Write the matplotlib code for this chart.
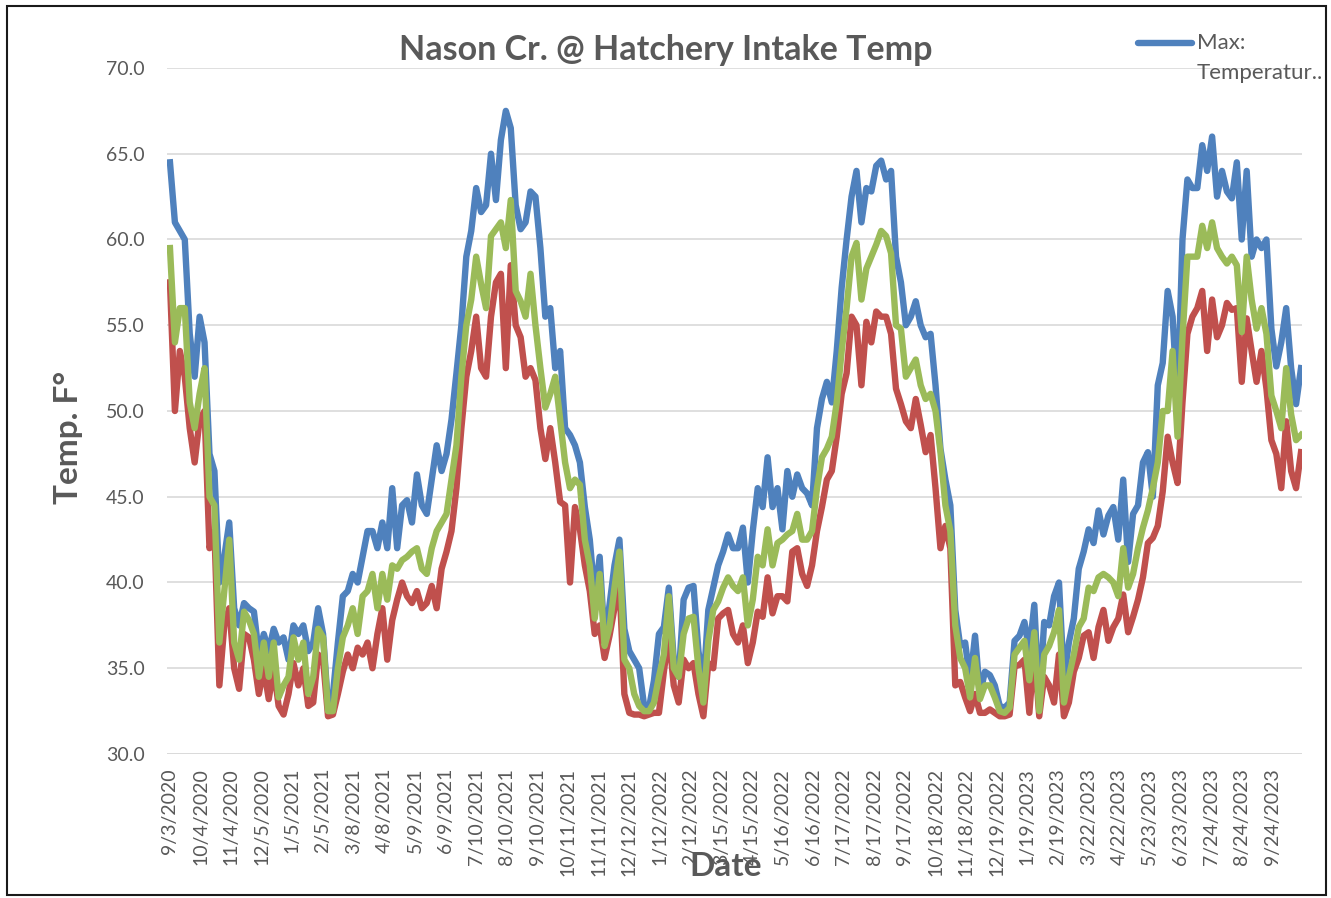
import numpy as np
import pandas as pd
import matplotlib
matplotlib.use("Agg")
import matplotlib.pyplot as plt
from matplotlib.lines import Line2D
from matplotlib.patches import Rectangle

# --- data, one sample every 5 days from 9/3/2020 ---
start_date = "2020-09-03"
step_days = 5

temp_max = [
    64.5, 61.0, 60.5, 60.0, 54.5, 52.0, 55.5, 54.0, 47.5, 46.5,
    40.0, 41.5, 43.5, 38.5, 37.5, 38.8, 38.5, 38.3, 35.8, 37.0,
    36.0, 37.3, 36.5, 36.8, 35.5, 37.5, 37.0, 37.5, 36.0, 36.5,
    38.5, 37.0, 32.8, 33.5, 36.5, 39.2, 39.5, 40.5, 40.0,
    41.5, 43.0, 43.0, 42.0, 43.5, 42.0, 45.5, 42.0, 44.5, 44.8,
    43.5, 46.3, 44.5, 44.0, 46.0, 48.0, 46.5, 47.5, 49.5, 52.2,
    55.0, 59.0, 60.5, 63.0, 61.6, 62.0, 65.0, 62.3, 65.8, 67.5,
    66.5, 62.0, 60.6, 61.0, 62.8, 62.5, 59.5, 55.5,
    56.0, 52.5, 53.5, 49.0, 48.6, 48.0, 47.0, 44.4, 42.5, 39.2,
    41.5, 36.6, 38.7, 41.0, 42.5, 37.3, 36.0, 35.5, 35.0, 32.8,
    32.7, 34.3, 37.0, 37.4, 39.7, 35.5, 34.5, 39.0, 39.7, 39.8,
    36.0, 34.0, 38.4, 39.7, 41.0, 41.8, 42.8, 42.0,
    42.0, 43.2, 40.0, 43.0, 45.5, 44.4, 47.3, 44.4, 45.5, 43.1,
    46.5, 45.0, 46.3, 45.5, 45.2, 44.5, 49.0, 50.7, 51.7, 50.5,
    53.5, 57.2, 60.0, 62.5, 64.0, 61.0, 63.0, 62.8, 64.3, 64.6,
    63.5, 64.0, 59.0, 57.5, 55.0, 55.5, 56.4, 55.0, 54.3,
    54.5, 51.5, 47.8, 46.0, 44.5, 38.4, 36.3, 36.5, 34.2, 36.9,
    33.5, 34.8, 34.6, 34.0, 32.8, 32.7, 33.0, 36.6, 36.9, 37.7,
    36.0, 38.7, 33.0, 37.7, 37.5, 39.2, 40.0, 34.3, 36.5, 37.9,
    40.8, 41.8, 43.1, 42.3, 44.2, 42.8, 43.9, 44.4,
    42.5, 46.0, 41.2, 44.0, 44.5, 47.0, 47.6, 45.0, 51.5, 52.8,
    57.0, 55.5, 50.5, 60.0, 63.5, 63.0, 63.0, 65.5, 64.0, 66.0,
    62.5, 64.0, 62.8, 62.4, 64.5, 60.0, 64.0, 59.0, 60.0, 59.5,
    60.0, 54.8, 52.6, 54.0, 56.0, 52.5, 50.4, 52.5,
]

temp_min = [
    57.5, 50.0, 53.5, 52.0, 49.0, 47.0, 49.5, 50.0, 42.0, 43.0,
    34.0, 37.5, 38.5, 35.0, 33.8, 37.0, 36.8, 35.5, 33.5, 35.0,
    33.2, 35.0, 32.8, 32.3, 33.5, 35.3, 34.0, 35.0, 32.8, 33.0,
    35.8, 35.5, 32.2, 32.3, 33.5, 34.8, 35.8, 35.0, 36.2,
    35.8, 36.5, 35.0, 37.0, 38.5, 35.5, 37.8, 39.0, 40.0, 39.2,
    38.8, 39.5, 38.5, 38.8, 39.8, 38.5, 40.8, 41.8, 43.0, 45.5,
    49.0, 52.0, 53.5, 55.5, 52.5, 52.0, 55.5, 57.5, 58.0, 52.5,
    58.5, 55.0, 54.3, 52.0, 52.5, 51.8, 49.0, 47.2,
    49.0, 47.0, 44.7, 44.5, 40.0, 44.4, 43.1, 41.0, 39.5, 37.0,
    37.5, 35.6, 36.9, 38.5, 40.0, 33.5, 32.4, 32.3, 32.3, 32.2,
    32.3, 32.4, 32.4, 34.8, 37.0, 34.0, 33.0, 35.5, 35.0, 35.3,
    33.5, 32.2, 35.3, 35.0, 37.9, 38.2, 38.4, 37.0,
    36.5, 37.5, 35.3, 36.5, 38.3, 38.0, 40.3, 38.2, 39.2, 39.2,
    38.9, 41.8, 42.0, 40.5, 39.8, 41.0, 43.0, 44.4, 46.0, 46.5,
    48.5, 51.0, 52.2, 55.5, 55.0, 51.5, 55.2, 54.0, 55.8, 55.5,
    55.5, 54.5, 51.3, 50.4, 49.4, 49.0, 50.7, 49.2, 47.6,
    48.6, 45.5, 42.0, 43.3, 42.0, 34.0, 34.2, 33.3, 32.5, 33.5,
    32.4, 32.4, 32.6, 32.4, 32.2, 32.2, 32.3, 35.1, 35.2, 35.5,
    32.4, 36.1, 32.2, 34.5, 34.0, 33.0, 35.8, 32.2, 33.0, 34.8,
    35.6, 36.9, 37.1, 35.6, 37.4, 38.4, 36.6, 37.4,
    37.9, 39.3, 37.1, 38.0, 39.0, 40.3, 42.3, 42.6, 43.3, 45.3,
    48.5, 47.0, 45.8, 50.5, 54.5, 55.5, 56.0, 57.0, 53.5, 56.5,
    54.3, 55.0, 56.3, 55.9, 56.0, 51.7, 55.4, 53.5, 51.7, 53.5,
    51.3, 48.3, 47.5, 45.5, 49.4, 46.5, 45.5, 47.6,
]

temp_mean = [
    59.5, 54.0, 56.0, 56.0, 50.5, 49.0, 51.0, 52.5, 45.0, 44.5,
    36.5, 39.5, 42.5, 36.5, 35.5, 38.3, 37.8, 37.0, 34.5, 36.5,
    34.5, 36.5, 33.3, 34.0, 34.5, 36.8, 35.5, 36.5, 33.5, 34.5,
    37.3, 36.8, 32.5, 32.5, 35.0, 36.8, 37.5, 38.5, 37.0,
    39.2, 39.5, 40.5, 38.5, 40.5, 39.0, 41.0, 40.8, 41.3, 41.5,
    41.8, 42.0, 40.8, 40.5, 42.0, 43.0, 43.5, 44.0, 46.0, 48.0,
    52.0, 55.0, 56.5, 59.0, 57.4, 56.0, 60.2, 60.6, 61.0, 59.5,
    62.3, 57.0, 56.4, 55.5, 58.0, 55.0, 52.5, 50.2,
    51.0, 52.0, 49.5, 47.0, 45.5, 46.0, 45.7, 42.5, 41.0, 37.9,
    40.5, 36.3, 37.4, 39.7, 41.8, 35.5, 35.0, 33.5, 32.8, 32.5,
    32.5, 33.0, 34.5, 35.8, 39.2, 35.0, 34.5, 37.0, 37.9, 38.0,
    35.0, 33.0, 36.6, 38.4, 38.9, 39.7, 40.3, 39.8,
    39.5, 40.3, 37.5, 39.0, 41.5, 41.0, 43.1, 41.0, 42.3, 42.5,
    42.8, 43.0, 44.0, 42.5, 42.5, 43.0, 45.5, 47.3, 47.8, 48.5,
    50.5, 53.5, 56.0, 59.0, 59.8, 56.5, 58.3, 59.0, 59.7, 60.5,
    60.2, 59.2, 55.0, 54.8, 52.0, 52.5, 53.0, 51.5, 50.7,
    51.0, 50.0, 47.6, 44.5, 43.0, 37.5, 35.6, 35.0, 33.3, 35.6,
    33.2, 34.0, 34.0, 33.3, 32.5, 32.4, 32.7, 35.8, 36.2, 36.6,
    34.3, 37.1, 32.5, 35.8, 36.3, 37.1, 38.4, 33.0, 34.5, 35.8,
    37.4, 37.9, 39.7, 39.5, 40.3, 40.5, 40.3, 40.0,
    39.2, 42.0, 39.7, 40.5, 42.0, 43.2, 44.2, 45.5, 47.0, 50.0,
    50.0, 53.5, 48.5, 54.3, 59.0, 59.0, 59.0, 60.8, 59.5, 61.0,
    59.5, 59.0, 58.6, 59.0, 58.5, 54.6, 59.0, 56.5, 54.8, 56.0,
    54.5, 50.9, 50.0, 49.0, 52.5, 49.8, 48.3, 48.6,
]

tick_labels = [
    "9/3/2020", "10/4/2020", "11/4/2020", "12/5/2020", "1/5/2021",
    "2/5/2021", "3/8/2021", "4/8/2021", "5/9/2021", "6/9/2021",
    "7/10/2021", "8/10/2021", "9/10/2021", "10/11/2021", "11/11/2021",
    "12/12/2021", "1/12/2022", "2/12/2022", "3/15/2022", "4/15/2022",
    "5/16/2022", "6/16/2022", "7/17/2022", "8/17/2022", "9/17/2022",
    "10/18/2022", "11/18/2022", "12/19/2022", "1/19/2023", "2/19/2023",
    "3/22/2023", "4/22/2023", "5/23/2023", "6/23/2023", "7/24/2023",
    "8/24/2023", "9/24/2023",
]
y_ticks = [30, 35, 40, 45, 50, 55, 60, 65, 70]

# --- plotting ---
plt.rcParams['font.family'] = ['Lato', 'DejaVu Sans']
txt = '#595959'
lw = 4.6

start = pd.Timestamp(start_date)
dates = start + pd.to_timedelta(np.arange(len(temp_max)) * step_days, unit='D')

fig = plt.figure(figsize=(13.31, 8.98), dpi=100)
ax = fig.add_axes([167 / 1331, 1 - 754 / 898, (1302 - 167) / 1331, (754 - 68) / 898])

ax.plot(dates, temp_max, color='#4f81bd', lw=lw, solid_joinstyle='round', zorder=3)
ax.plot(dates, temp_min, color='#c0504d', lw=lw, solid_joinstyle='round', zorder=4)
ax.plot(dates, temp_mean, color='#9bbb59', lw=lw, solid_joinstyle='round', zorder=5)

ax.set_ylim(30, 70)
ax.set_xlim(start - pd.Timedelta(days=3), start + pd.Timedelta(days=1146))
ax.set_yticks(y_ticks)
ax.set_yticklabels([f"{v:.1f}" for v in y_ticks])
tick_pos = pd.to_datetime(tick_labels, format='%m/%d/%Y')
ax.set_xticks(tick_pos)
ax.set_xticklabels(tick_labels, rotation=90, va='top', ha='center')

for s in ax.spines.values():
    s.set_visible(False)
ax.grid(axis='y', color='#d9d9d9', lw=1.2, zorder=0)
ax.axhline(30, color='#d9d9d9', lw=1.2, zorder=1)
ax.tick_params(axis='both', length=0, labelsize=14, labelcolor=txt)
ax.tick_params(axis='y', pad=16)
ax.tick_params(axis='x', pad=10)

fig.text(666 / 1331, 1 - 50 / 898, "Nason Cr. @ Hatchery Intake Temp",
         ha='center', va='center', fontsize=24.5, fontweight='bold', color=txt)
fig.text(68 / 1331, 1 - 437 / 898, "Temp. F°", rotation=90,
         ha='center', va='center', fontsize=24, fontweight='bold', color=txt)
fig.text(726 / 1331, 1 - 867 / 898, "Date",
         ha='center', va='center', fontsize=24, fontweight='bold', color=txt)

# truncated legend entry in the top right corner
fig.add_artist(Line2D([1138 / 1331, 1192 / 1331], [1 - 43 / 898, 1 - 43 / 898],
                      color='#4f81bd', lw=lw, solid_capstyle='round'))
fig.text(1197 / 1331, 1 - 43 / 898, "Max:", ha='left', va='center',
         fontsize=16, color=txt)
fig.text(1197 / 1331, 1 - 73 / 898, "Temperatur..", ha='left', va='center',
         fontsize=16, color=txt)

fig.add_artist(Rectangle((7 / 1331, 1 - 895 / 898), (1326 - 7) / 1331, (895 - 6) / 898,
                         fill=False, edgecolor='#1a1a1a', lw=1.5, transform=fig.transFigure))

fig.savefig('out.png', dpi=100)
